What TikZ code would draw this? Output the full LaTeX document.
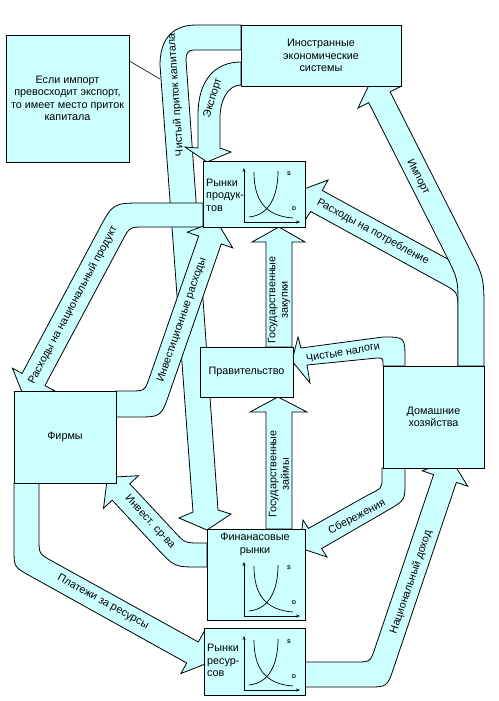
\documentclass[tikz,border=0pt]{standalone}
\usepackage{fontspec}
\setmainfont{Liberation Sans}
\usetikzlibrary{arrows.meta}
\definecolor{cfill}{RGB}{204,255,255}
\newcommand{\sdchart}[3]{%
  \begin{scope}[shift={(#1,#2)}]
    \draw[axisline] (0,0) -- (0,-54);
    \draw[axisline] (0,0) -- (56,0);
    \draw[sdcurve] (10,-50) .. controls (10,-22) and (21,-6) .. (49,-4);
    \draw[sdcurve] (5,-5) .. controls (26,-7) and (34,-27) .. (34,-51);
    \node[sdlab] (#3S) at (45,-48) {S};
    \node[sdlab] (#3D) at (50,-13) {D};
  \end{scope}}
\begin{document}
\begin{tikzpicture}[x=1pt,y=-1pt,
  band/.style={draw=black,fill=cfill,line width=0.8pt,line join=miter},
  box/.style={draw=black,fill=cfill,line width=0.8pt,inner sep=0pt,
    font=\fontsize{10.8}{12.5}\selectfont,align=center},
  lab/.style={font=\fontsize{10.8}{12.5}\selectfont,inner sep=0pt,align=center},
  axisline/.style={line width=0.7pt,-{Stealth[length=4pt,width=3pt]}},
  sdcurve/.style={line width=0.7pt},
  sdlab/.style={font=\fontsize{5.5}{6}\selectfont\bfseries,inner sep=0pt}]
\fill[white] (0,0) rectangle (498,701);
\useasboundingbox (0,0) rectangle (498,701);

% net capital inflow
\draw[band] (241,25) -- (196,25) .. controls (170,25) and (160,42) .. (160,65)
  -- (193,512) -- (179,518) -- (207,530) -- (231,514) -- (218,510)
  -- (186,60) .. controls (186,53) and (188,50) .. (194,50) -- (241,50) -- cycle;
% export
\draw[band] (241,62) .. controls (215,62) and (198,80) .. (198,115) -- (198,148)
  -- (185,147) -- (207,162) -- (231,152) -- (220,148) -- (220,118)
  .. controls (220,100) and (228,85) .. (241,85) -- cycle;
% spending on national product
\draw[band] (203,203) -- (143,203) .. controls (113,203) .. (98.9,229.4) -- (22.1,373.4)
  -- (12.4,368.2) -- (24.1,397.1) -- (54.6,390.8) -- (44.9,385.6)
  -- (122.6,240.2) .. controls (129.6,227) .. (144.6,227) -- (203,227) -- cycle;
% investment spending
\draw[band] (116,391) -- (129.8,391) .. controls (144.8,391) .. (149.7,376.8) -- (198.7,236.1)
  -- (187.3,232.1) -- (216.6,221.1) -- (232.7,247.9) -- (221.3,243.9)
  -- (169.3,393.4) .. controls (161.1,417) .. (136,417) -- (116,417) -- cycle;
% government purchases
\draw[band] (266,347) -- (266,242) -- (252,242) -- (279,227) -- (305,242) -- (292,242) -- (292,347) -- cycle;
% government loans
\draw[band] (266,529) -- (266,412) -- (250,412) -- (278,397) -- (307,412) -- (292,412) -- (292,529) -- cycle;
% consumption spending
\draw[band] (299,191) -- (328,180) -- (322.3,190.5) -- (455,263) -- (466,300) -- (466,366)
  -- (458,366) -- (458,312) .. controls (458,292) .. (442,283.5) -- (310.7,211.5)
  -- (304.2,221.3) -- cycle;
% import
\draw[band] (458,366) -- (458,307) .. controls (458,279) .. (445.4,254) -- (368.7,102.6)
  -- (358,108) -- (371.5,79.7) -- (400.8,86.4) -- (390.1,91.8)
  -- (468.3,246.3) .. controls (484,277.5) .. (484,312) -- (484,366) -- cycle;
% net taxes
\draw[band] (405,366) -- (405,360) .. controls (405,337) .. (383,337) -- (301,348)
  -- (298,337) -- (292,361) -- (310,383) -- (307,365)
  -- (377,358) .. controls (383,358) .. (383,366) -- cycle;
% savings
\draw[band] (382,468) -- (382,478) .. controls (382,488) .. (368,495) -- (308.4,528.4)
  -- (303,520) -- (300,548) -- (327,557) -- (321.6,548.6)
  -- (390,509) .. controls (405,500) .. (405,482) -- (405,468) -- cycle;
% investment funds
\draw[band] (207,543) -- (200,543) .. controls (185,543) .. (174.8,532) -- (129.8,483.8)
  -- (138.5,475.7) -- (107.4,477.4) -- (103.5,508.3) -- (112.2,500.2)
  -- (157.5,548.8) .. controls (174.5,567) .. (199.5,567) -- (207,567) -- cycle;
% payments for resources
\draw[band] (14,483) -- (14,549) .. controls (14,567) .. (29.7,575.7) -- (186.7,663)
  -- (180.9,673.5) -- (210,662.2) -- (204.1,631.5) -- (198.3,642)
  -- (52.1,561.1) .. controls (39,553.8) .. (39,538.8) -- (39,483) -- cycle;
% national income
\draw[band] (305,662) -- (355.3,662) .. controls (370.3,662) .. (375.1,647.8) -- (433.6,474.7)
  -- (422.3,470.8) -- (451.4,459.6) -- (467.7,486.2) -- (456.4,482.3)
  -- (393.6,668.1) .. controls (387.2,687) .. (367.2,687) -- (305,687) -- cycle;

% boxes
\node[box,minimum width=123pt,minimum height=127pt] (note) at (67.5,98.5)
  {Если импорт\\превосходит экспорт,\\то имеет место приток\\капитала};
\node[box,minimum width=160pt,minimum height=61pt] (foreign) at (321,55.5)
  {Иностранные\\экономические\\системы};
\node[box,minimum width=102pt,minimum height=66pt] (pm) at (254,194) {};
\node[box,minimum width=93pt,minimum height=50pt] (gov) at (246.5,372) {Правительство};
\node[box,minimum width=102pt,minimum height=92pt] (firms) at (65,437) {Фирмы};
\node[box,minimum width=101pt,minimum height=102pt] (hh) at (433.5,417) {Домашние\\хозяйства};
\node[box,minimum width=98pt,minimum height=91pt] (fm) at (256,574.5) {};
\node[box,minimum width=101pt,minimum height=67pt] (rm) at (254.5,661.5) {};

\draw[line width=0.6pt] (note.east |- 0,61) -- (160,79);

\node[lab,anchor=west,align=left] (pmtext) at (206,195) {Рынки\\продук-\\тов};
\node[lab,anchor=west,align=left] (rmtext) at (207,660.5) {Рынки\\ресур-\\сов};
\node[lab] (fmtext) at (255,544.5) {Финанасовые\\рынки};
\sdchart{244}{222}{pm}
\sdchart{244}{616}{fm}
\sdchart{244}{690}{rm}

% labels on flows
\node[lab,rotate=94] (lcap) at (176,95) {Чистый приток капитала};
\node[lab,rotate=73] (lexp) at (213,98) {Экспорт};
\node[lab,rotate=-63] (limp) at (418,177) {Импорт};
\node[lab,rotate=-28.7] (lcons) at (373,232) {Расходы на потребление};
\node[lab,rotate=62] (lnat) at (73,305) {Расходы на национальный продукт};
\node[lab,rotate=71] (linv) at (182,320) {Инвестиционные расходы};
\node[lab,rotate=90] (lgp) at (279,300) {Государственные\\закупки};
\node[lab,rotate=90] (lgl) at (279,474) {Государственные\\займы};
\node[lab,rotate=10] (ltax) at (343,352) {Чистые налоги};
\node[lab,rotate=28] (lsav) at (357,517) {Сбережения};
\node[lab,rotate=-47] (lif) at (150,522) {Инвест. ср-ва};
\node[lab,rotate=-29] (lpay) at (103,602) {Платежи за ресурсы};
\node[lab,rotate=71] (lni) at (411,582) {Национальный доход};
\end{tikzpicture}
\end{document}
